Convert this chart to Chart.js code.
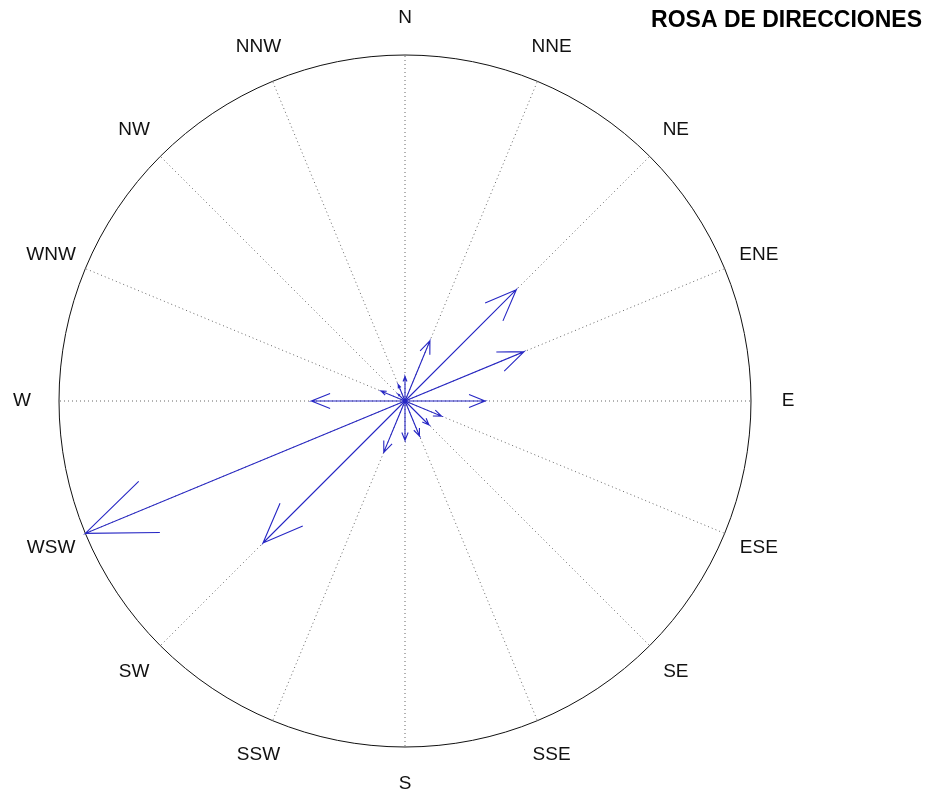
<!DOCTYPE html>
<html>
<head>
<meta charset="utf-8">
<title>Rosa de direcciones</title>
<script src="https://cdn.jsdelivr.net/npm/chart.js@4.4.0/dist/chart.umd.min.js"></script>
<style>
  body { margin: 0; background: #fff; }
  #wrap { width: 928px; height: 791px; position: relative; }
</style>
</head>
<body>
<div id="wrap"><canvas id="rosa"></canvas></div>
<script>
// direcciones (sentido horario desde el norte) y frecuencia en %
const directions = ['N', 'NNE', 'NE', 'ENE', 'E', 'ESE', 'SE', 'SSE',
                    'S', 'SSW', 'SW', 'WSW', 'W', 'WNW', 'NW', 'NNW'];
const frequency = [1.8, 4.8, 11.6, 9.5, 5.9, 2.9, 2.5, 2.8,
                   2.9, 4.1, 14.8, 25.5, 6.9, 1.9, 0.7, 1.3];
const chartTitle = 'ROSA DE DIRECCIONES';

const rMax = Math.max(...frequency);
const arrowColor = 'rgb(38,38,196)';

// flecha estilo compass: punta en (1,0), aletas en (0.8, +-0.08)
function arrowPoints(value, idx) {
  const t = idx * Math.PI / 8;
  const ux = Math.sin(t), uy = Math.cos(t);
  const px = Math.cos(t), py = -Math.sin(t);
  const pt = (a, b) => ({ x: value * (a * ux + b * px), y: value * (a * uy + b * py) });
  return [pt(0, 0), pt(1, 0), pt(0.8, 0.08), pt(1, 0), pt(0.8, -0.08)];
}

const datasets = frequency.map((v, i) => ({
  label: directions[i],
  data: arrowPoints(v, i),
  showLine: true,
  borderColor: arrowColor,
  borderWidth: 1.1,
  pointRadius: 0,
  tension: 0,
  fill: false
}));

// ejes a escala 1:1, el centro de la rosa cae en (405, 401)
const scale = 346 / rMax;
const W = 928, H = 791, cx = 405, cy = 401;

const rosePlugin = {
  id: 'rose',
  beforeDatasetsDraw(chart) {
    const { ctx, scales: { x, y } } = chart;
    const ox = x.getPixelForValue(0), oy = y.getPixelForValue(0);
    const r = x.getPixelForValue(rMax) - ox;
    ctx.save();
    // radios punteados
    ctx.strokeStyle = '#666';
    ctx.lineWidth = 1;
    ctx.setLineDash([1, 3]);
    directions.forEach((d, i) => {
      const t = i * Math.PI / 8;
      ctx.beginPath();
      ctx.moveTo(ox, oy);
      ctx.lineTo(x.getPixelForValue(rMax * Math.sin(t)), y.getPixelForValue(rMax * Math.cos(t)));
      ctx.stroke();
    });
    // circulo exterior
    ctx.setLineDash([]);
    ctx.strokeStyle = '#111';
    ctx.beginPath();
    ctx.arc(ox, oy, r, 0, Math.PI * 2);
    ctx.stroke();
    ctx.restore();
  },
  afterDatasetsDraw(chart) {
    const { ctx, scales: { x, y } } = chart;
    const ox = x.getPixelForValue(0), oy = y.getPixelForValue(0);
    ctx.save();
    ctx.fillStyle = arrowColor;
    ctx.beginPath();
    ctx.arc(ox, oy, 2.5, 0, Math.PI * 2);
    ctx.fill();
    // etiquetas de direccion
    ctx.fillStyle = '#111';
    ctx.font = '19px "Liberation Sans", Arial, sans-serif';
    ctx.textAlign = 'center';
    ctx.textBaseline = 'middle';
    const rl = rMax * 1.107;
    directions.forEach((d, i) => {
      const t = i * Math.PI / 8;
      ctx.fillText(d, x.getPixelForValue(rl * Math.sin(t)), y.getPixelForValue(rl * Math.cos(t)));
    });
    // titulo
    ctx.font = 'bold 23px "Liberation Sans", Arial, sans-serif';
    ctx.textAlign = 'right';
    ctx.fillStyle = '#000';
    ctx.fillText(chartTitle, 922, 21);
    ctx.restore();
  }
};

new Chart(document.getElementById('rosa'), {
  type: 'scatter',
  data: { datasets },
  options: {
    responsive: true,
    maintainAspectRatio: false,
    animation: false,
    layout: { padding: 0 },
    plugins: { legend: { display: false }, tooltip: { enabled: false }, title: { display: false } },
    scales: {
      x: { type: 'linear', display: false, min: -cx / scale, max: (W - cx) / scale },
      y: { type: 'linear', display: false, min: -(H - cy) / scale, max: cy / scale }
    }
  },
  plugins: [rosePlugin]
});
</script>
</body>
</html>
